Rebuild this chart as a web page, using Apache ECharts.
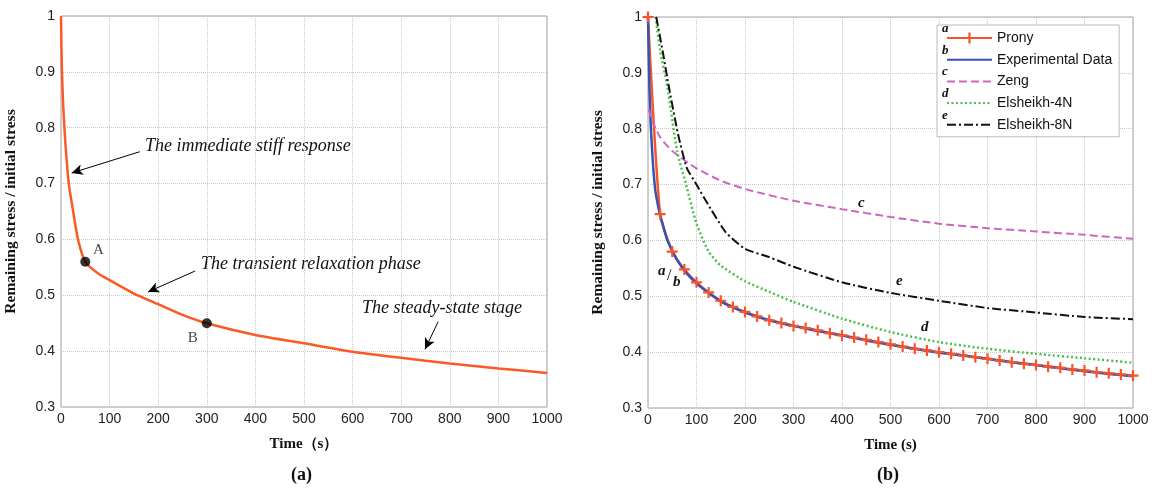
<!DOCTYPE html>
<html>
<head>
<meta charset="utf-8">
<script src="https://cdn.jsdelivr.net/npm/echarts@6/dist/echarts.min.js"></script>
<style>
	html,body{margin:0;padding:0;background:#fff;}
	#chart{width:1154px;height:491px;}
</style>
</head>
<body>
<div id="chart"></div>
<script>
	// (a) 左图 松弛曲线
	var leftTime  = [0, 1, 2, 4, 7, 10, 16, 25, 35, 50, 75, 100, 150, 200, 250, 300, 400, 500, 600, 700, 800, 900, 1000];
	var leftValue = [1, 0.94, 0.9, 0.85, 0.8, 0.76, 0.7, 0.65, 0.6, 0.56, 0.54, 0.527, 0.503, 0.484, 0.465, 0.45, 0.429, 0.414, 0.399, 0.388, 0.378, 0.369, 0.361];
	var pointTime  = [50, 300];
	var pointValue = [0.56, 0.45];
	var pointName  = ["A", "B"];

	// (b) 右图 各模型对比
	var pronyTime  = [0,25,50,75,100,125,150,175,200,225,250,275,300,325,350,375,400,425,450,475,500,525,550,575,600,625,650,675,700,725,750,775,800,825,850,875,900,925,950,975,1000];
	var pronyValue = [1.0,0.647,0.58,0.548,0.525,0.507,0.492,0.481,0.472,0.464,0.457,0.452,0.447,0.443,0.439,0.434,0.430,0.426,0.422,0.418,0.414,0.410,0.406,0.403,0.400,0.397,0.394,0.391,0.388,0.385,0.382,0.379,0.377,0.374,0.372,0.369,0.367,0.364,0.362,0.360,0.358];
	var expTime  = [0,3,6,10,15,20,25,30,40,50,60,75,100,125,150,175,200,250,300,350,400,450,500,550,600,650,700,750,800,850,900,950,1000];
	var expValue = [1.0,0.87,0.8,0.74,0.69,0.665,0.645,0.63,0.6,0.582,0.565,0.546,0.523,0.506,0.491,0.48,0.471,0.457,0.447,0.438,0.430,0.421,0.413,0.406,0.399,0.394,0.388,0.382,0.377,0.371,0.366,0.361,0.357];
	var zengTime  = [1,10,25,50,100,150,200,300,400,500,600,700,800,900,1000];
	var zengValue = [0.835,0.812,0.785,0.76,0.729,0.707,0.692,0.671,0.656,0.642,0.63,0.622,0.616,0.61,0.603];
	var n4Time  = [16,25,40,60,80,100,125,150,200,250,300,400,500,600,700,800,900,1000];
	var n4Value = [1.0,0.94,0.875,0.76,0.695,0.63,0.58,0.555,0.527,0.508,0.49,0.46,0.436,0.418,0.406,0.397,0.389,0.381];
	var n8Time  = [17,30,42,62,80,100,120,160,200,250,300,400,500,600,700,800,900,1000];
	var n8Value = [1.0,0.94,0.88,0.79,0.73,0.70,0.67,0.615,0.585,0.57,0.553,0.525,0.506,0.492,0.479,0.471,0.463,0.459];

	var xTicks = [0, 1000, 100];   // min, max, interval
	var yTicks = [0.3, 1, 0.1];

	function zip(xs, ys){
		var out = [];
		xs.forEach(function(x, i){ out.push([x, ys[i]]); });
		return out;
	}

	var serif = '"Liberation Serif","Times New Roman",serif';
	var sans  = '"Liberation Sans",Arial,sans-serif';
	var crossPath = 'path://M4,0h2v4h4v2h-4v4h-2v-4h-4v-2h4z';
	var hideSym = {opacity: 0};

	function xAxisOf(idx, name){
		return {
			gridIndex: idx, type: 'value', min: xTicks[0], max: xTicks[1], interval: xTicks[2],
			name: name, nameLocation: 'middle', nameGap: 30,
			nameTextStyle: {fontFamily: serif, fontWeight: 'bold', fontSize: 15, color: '#111'},
			axisLine: {show: false}, axisTick: {show: false},
			axisLabel: {fontFamily: sans, fontSize: 14, color: '#222', margin: 5, formatter: function(v){ return String(v); }},
			splitLine: {show: true, lineStyle: {color: '#c8c8c8', type: [1, 1]}}
		};
	}
	function yAxisOf(idx){
		return {
			gridIndex: idx, type: 'value', min: yTicks[0], max: yTicks[1], interval: yTicks[2],
			name: 'Remaining stress / initial stress', nameLocation: 'middle', nameGap: 42,
			nameTextStyle: {fontFamily: serif, fontWeight: 'bold', fontSize: 15.5, color: '#111'},
			axisLine: {show: false}, axisTick: {show: false},
			axisLabel: {fontFamily: sans, fontSize: 14, color: '#222', margin: 6},
			splitLine: {show: true, lineStyle: {color: '#c8c8c8', type: [1, 1]}}
		};
	}

	var myChart = echarts.init(document.getElementById('chart'));
	var option = {
		backgroundColor: '#fff',
		animation: false,
		grid: [
			{left: 61, right: 607, top: 16, bottom: 84, show: true, borderColor: '#a0a0a0', borderWidth: 1},
			{left: 648, right: 21, top: 17, bottom: 83, show: true, borderColor: '#a0a0a0', borderWidth: 1}
		],
		xAxis: [xAxisOf(0, 'Time（s）'), xAxisOf(1, 'Time (s)')],
		yAxis: [yAxisOf(0), yAxisOf(1)],
		legend: {
			data: [
				{name: 'Prony'},
				{name: 'Experimental Data', itemStyle: hideSym},
				{name: 'Zeng', itemStyle: hideSym},
				{name: 'Elsheikh-4N', itemStyle: hideSym},
				{name: 'Elsheikh-8N', itemStyle: hideSym}
			],
			orient: 'vertical', left: 937, top: 25,
			padding: [6, 7, 5, 9],
			itemWidth: 45, itemHeight: 14, itemGap: 7.7,
			backgroundColor: '#fff', borderColor: '#bbb', borderWidth: 1,
			textStyle: {fontFamily: sans, fontSize: 14, color: '#111', lineHeight: 14}
		},
		series: [
			{
				name: 'curve-a', type: 'line', xAxisIndex: 0, yAxisIndex: 0,
				data: zip(leftTime, leftValue), showSymbol: false, symbol: 'none',
				smooth: 0.2,
				lineStyle: {color: '#fb5a26', width: 2.5},
				markLine: {
					silent: true, symbol: ['none', 'arrow'], symbolSize: [8, 11],
					lineStyle: {color: '#000', width: 1, type: 'solid'},
					label: {show: false},
					data: [
						[{coord: [162, 0.757]}, {coord: [22, 0.719]}],
						[{coord: [276, 0.5435]}, {coord: [179, 0.506]}],
						[{coord: [776, 0.4527]}, {coord: [749, 0.4033]}]
					]
				}
			},
			{
				name: 'points', type: 'scatter', xAxisIndex: 0, yAxisIndex: 0,
				data: pointTime.map(function(t, i){
					return {
						value: [t, pointValue[i]], name: pointName[i],
						label: {offset: i === 0 ? [13, -12] : [-14, 15]}
					};
				}),
				symbolSize: 10, itemStyle: {color: '#000'}, z: 5,
				label: {
					show: true, formatter: '{b}', position: 'inside',
					fontFamily: serif, fontSize: 15, color: '#111'
				}
			},
			{
				name: 'Prony', type: 'line', xAxisIndex: 1, yAxisIndex: 1,
				data: zip(pronyTime, pronyValue), symbol: crossPath, symbolSize: 11, showSymbol: true,
				smooth: 0.2,
				itemStyle: {color: '#f8542a'}, lineStyle: {color: '#f8542a', width: 2.5}
			},
			{
				name: 'Experimental Data', type: 'line', xAxisIndex: 1, yAxisIndex: 1,
				data: zip(expTime, expValue), symbol: 'circle', showSymbol: false,
				smooth: 0.2,
				itemStyle: {color: '#3652b4'}, lineStyle: {color: '#3652b4', width: 2.5}
			},
			{
				name: 'Zeng', type: 'line', xAxisIndex: 1, yAxisIndex: 1,
				data: zip(zengTime, zengValue), symbol: 'circle', showSymbol: false,
				smooth: 0.2,
				itemStyle: {color: '#cc66c2'}, lineStyle: {color: '#cc66c2', width: 2, type: [8, 4]}
			},
			{
				name: 'Elsheikh-4N', type: 'line', xAxisIndex: 1, yAxisIndex: 1,
				data: zip(n4Time, n4Value), symbol: 'circle', showSymbol: false,
				smooth: 0.2,
				itemStyle: {color: '#4cc04c'}, lineStyle: {color: '#4cc04c', width: 2.5, type: [2, 2.5]}
			},
			{
				name: 'Elsheikh-8N', type: 'line', xAxisIndex: 1, yAxisIndex: 1,
				data: zip(n8Time, n8Value), symbol: 'circle', showSymbol: false,
				smooth: 0.2,
				itemStyle: {color: '#111'}, lineStyle: {color: '#111', width: 2, type: [9, 3, 2, 3]}
			}
		],
		graphic: [
			// 左图注释文字
			{type: 'text', left: 145, top: 137, style: {text: 'The immediate stiff response', fontFamily: serif, fontStyle: 'italic', fontSize: 18, fill: '#111'}},
			{type: 'text', left: 201, top: 255, style: {text: 'The transient relaxation phase', fontFamily: serif, fontStyle: 'italic', fontSize: 18, fill: '#111'}},
			{type: 'text', left: 362, top: 299, style: {text: 'The steady-state stage', fontFamily: serif, fontStyle: 'italic', fontSize: 18, fill: '#111'}},
			// 右图曲线标记
			{type: 'text', left: 858, top: 196, style: {text: 'c', fontFamily: serif, fontStyle: 'italic', fontWeight: 'bold', fontSize: 15, fill: '#111'}},
			{type: 'text', left: 896, top: 274, style: {text: 'e', fontFamily: serif, fontStyle: 'italic', fontWeight: 'bold', fontSize: 15, fill: '#111'}},
			{type: 'text', left: 921, top: 320, style: {text: 'd', fontFamily: serif, fontStyle: 'italic', fontWeight: 'bold', fontSize: 15, fill: '#111'}},
			{type: 'text', left: 658, top: 264, style: {text: 'a', fontFamily: serif, fontStyle: 'italic', fontWeight: 'bold', fontSize: 15, fill: '#111'}},
			{type: 'text', left: 667, top: 268, style: {text: '/', fontFamily: serif, fontSize: 16, fill: '#111'}},
			{type: 'text', left: 673, top: 275, style: {text: 'b', fontFamily: serif, fontStyle: 'italic', fontWeight: 'bold', fontSize: 15, fill: '#111'}},
			// 图例字母
			{type: 'text', left: 942, top: 22, z: 100, style: {text: 'a', fontFamily: serif, fontStyle: 'italic', fontWeight: 'bold', fontSize: 13, fill: '#111'}},
			{type: 'text', left: 942, top: 44, z: 100, style: {text: 'b', fontFamily: serif, fontStyle: 'italic', fontWeight: 'bold', fontSize: 13, fill: '#111'}},
			{type: 'text', left: 942, top: 65, z: 100, style: {text: 'c', fontFamily: serif, fontStyle: 'italic', fontWeight: 'bold', fontSize: 13, fill: '#111'}},
			{type: 'text', left: 942, top: 87, z: 100, style: {text: 'd', fontFamily: serif, fontStyle: 'italic', fontWeight: 'bold', fontSize: 13, fill: '#111'}},
			{type: 'text', left: 942, top: 109, z: 100, style: {text: 'e', fontFamily: serif, fontStyle: 'italic', fontWeight: 'bold', fontSize: 13, fill: '#111'}},
			// 子图编号
			{type: 'text', left: 291, top: 466, style: {text: '(a)', fontFamily: serif, fontWeight: 'bold', fontSize: 18, fill: '#111'}},
			{type: 'text', left: 877, top: 466, style: {text: '(b)', fontFamily: serif, fontWeight: 'bold', fontSize: 18, fill: '#111'}}
		]
	};
	myChart.setOption(option);
</script>
</body>
</html>
